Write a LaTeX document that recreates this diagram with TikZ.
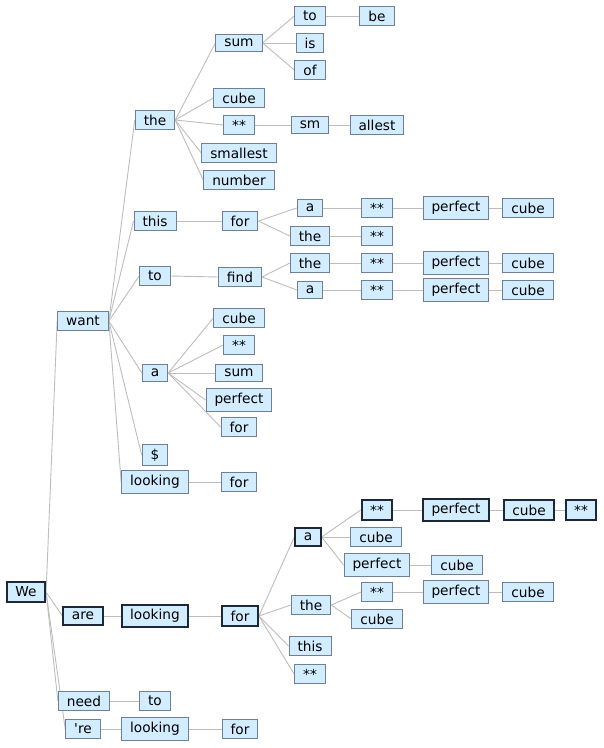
\documentclass[tikz,border=0pt]{standalone}
\usepackage{fontspec}
\setmainfont{DejaVu Sans}[Ligatures=TeXOff]
\usetikzlibrary{backgrounds}
\definecolor{boxfill}{HTML}{D2EDFF}
\definecolor{boxline}{HTML}{6F7F95}
\definecolor{boldline}{HTML}{1C2838}
\definecolor{edgecol}{HTML}{BDBDBD}
\tikzset{
  nd/.style={draw=boxline, fill=boxfill, line width=1pt, inner xsep=8.5pt, inner ysep=4.6pt,
    font=\fontsize{13.7}{16}\selectfont, text=black, anchor=center},
  nb/.style={nd, draw=boldline, line width=2pt},
  ed/.style={draw=edgecol, line width=0.9pt}
}
\begin{document}
\begin{tikzpicture}[x=1pt,y=-1pt]
\useasboundingbox (0,0) rectangle (604,748);
% root
\node[nb] (we) at (26,592) {We};
% want branch
\node[nd] (want) at (83,321) {want};
\node[nd] (the1) at (155,120) {the};
\node[nd] (sum1) at (239,43) {sum};
\node[nd] (to1) at (310,16) {to};
\node[nd] (be) at (377,16) {be};
\node[nd] (is) at (310,43) {is};
\node[nd] (of) at (310,70) {of};
\node[nd] (cube1) at (239,98) {cube};
\node[nd] (st1) at (239,125) {**};
\node[nd] (sm) at (310,125) {sm};
\node[nd] (allest) at (377,125) {allest};
\node[nd] (smallest) at (239,153) {smallest};
\node[nd] (number) at (239,180) {number};
\node[nd] (this1) at (155,221) {this};
\node[nd] (for1) at (240,221) {for};
\node[nd] (a1) at (310,208) {a};
\node[nd] (st2) at (377,208) {**};
\node[nd] (perf1) at (456,208) {perfect};
\node[nd] (cube2) at (528,208) {cube};
\node[nd] (the2) at (310,236) {the};
\node[nd] (st3) at (377,236) {**};
\node[nd] (to2) at (155,276) {to};
\node[nd] (find) at (240,277) {find};
\node[nd] (the3) at (310,263) {the};
\node[nd] (st4) at (377,263) {**};
\node[nd] (perf2) at (456,263) {perfect};
\node[nd] (cube3) at (528,263) {cube};
\node[nd] (a2) at (310,290) {a};
\node[nd] (st5) at (377,290) {**};
\node[nd] (perf3) at (456,290) {perfect};
\node[nd] (cube4) at (528,290) {cube};
\node[nd] (a3) at (155,373) {a};
\node[nd] (cube5) at (239,318) {cube};
\node[nd] (st6) at (239,345) {**};
\node[nd] (sum2) at (239,373) {sum};
\node[nd] (perf4) at (239,400) {perfect};
\node[nd] (for2) at (239,427) {for};
\node[nd] (dollar) at (155,455) {\$};
\node[nd] (look1) at (155,482) {looking};
\node[nd] (for3) at (239,482) {for};
% are branch
\node[nb] (are) at (83,616) {are};
\node[nb] (look2) at (155,616) {looking};
\node[nb] (for4) at (240,616) {for};
\node[nb] (a4) at (308,537) {a};
\node[nb] (st7) at (377,510) {**};
\node[nb] (perf5) at (456,510) {perfect};
\node[nb] (cube6) at (529,510) {cube};
\node[nb] (st8) at (581,510) {**};
\node[nd] (cube7) at (376,537) {cube};
\node[nd] (perf6) at (377,565) {perfect};
\node[nd] (cube8) at (457,565) {cube};
\node[nd] (the4) at (311,605) {the};
\node[nd] (st9) at (377,592) {**};
\node[nd] (perf7) at (456,592) {perfect};
\node[nd] (cube9) at (528,592) {cube};
\node[nd] (cube10) at (377,619) {cube};
\node[nd] (this2) at (310,646) {this};
\node[nd] (st10) at (310,674) {**};
% need / 're
\node[nd] (need) at (84,701) {need};
\node[nd] (to3) at (155,701) {to};
\node[nd] (re) at (83,729) {'re};
\node[nd] (look3) at (155,729) {looking};
\node[nd] (for5) at (240,729) {for};
\begin{pgfonlayer}{background}
\foreach \p/\c in {we/want, we/are, we/need, we/re,
  want/the1, want/this1, want/to2, want/a3, want/dollar, want/look1,
  the1/sum1, the1/cube1, the1/st1, the1/smallest, the1/number,
  sum1/to1, sum1/is, sum1/of, to1/be, st1/sm, sm/allest,
  this1/for1, for1/a1, for1/the2, a1/st2, st2/perf1, perf1/cube2, the2/st3,
  to2/find, find/the3, find/a2, the3/st4, st4/perf2, perf2/cube3,
  a2/st5, st5/perf3, perf3/cube4,
  a3/cube5, a3/st6, a3/sum2, a3/perf4, a3/for2, look1/for3,
  are/look2, look2/for4, for4/a4, for4/the4, for4/this2, for4/st10,
  a4/st7, st7/perf5, perf5/cube6, cube6/st8, a4/cube7, a4/perf6, perf6/cube8,
  the4/st9, st9/perf7, perf7/cube9, the4/cube10,
  need/to3, re/look3, look3/for5}
  \draw[ed] (\p.east) -- (\c.west);
\end{pgfonlayer}
\end{tikzpicture}
\end{document}
